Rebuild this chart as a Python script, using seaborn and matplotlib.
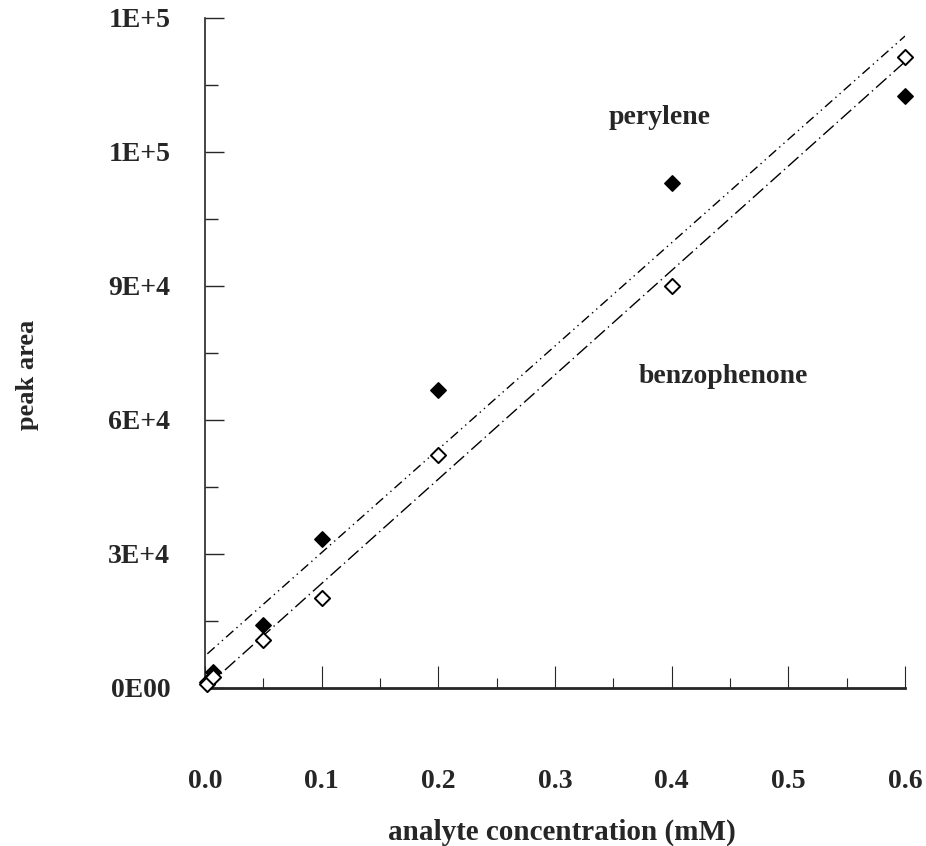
import matplotlib
matplotlib.use("Agg")
import matplotlib.pyplot as plt
from matplotlib import ticker
import seaborn as sns
import pandas as pd

# --- data ---
conc = [0.002, 0.007, 0.05, 0.1, 0.2, 0.4, 0.6]
perylene = [1300, 3600, 14100, 33300, 66600, 113100, 132600]
benzophenone = [900, 2500, 10700, 20100, 52100, 90100, 141300]

ytick_vals = [0, 30000, 60000, 90000, 120000, 150000]
ytick_labels = ["0E00", "3E+4", "6E+4", "9E+4", "1E+5", "1E+5"]
xtick_vals = [0.0, 0.1, 0.2, 0.3, 0.4, 0.5, 0.6]

df = pd.DataFrame({"conc": conc, "perylene": perylene, "benzophenone": benzophenone})

sns.set_theme(style="ticks")
plt.rcParams["font.family"] = ["Liberation Serif", "DejaVu Serif"]

fig = plt.figure(figsize=(9.26, 8.46), dpi=100)
ax = fig.add_axes([0.2214, 0.1868, 0.756, 0.792])

# perylene: filled diamonds, dash-dot-dot fit
sns.regplot(data=df, x="conc", y="perylene", ax=ax, ci=None, marker="D",
            scatter_kws=dict(s=60, color="black", edgecolors="black", linewidths=1.2,
                             alpha=1, zorder=5, clip_on=False),
            line_kws=dict(color="black", lw=1.0, ls=(0, (7, 3, 1, 3, 1, 3))))
# benzophenone: open diamonds, dash-dot fit
sns.regplot(data=df, x="conc", y="benzophenone", ax=ax, ci=None, marker="D",
            scatter_kws=dict(s=60, facecolors="white", edgecolors="black", linewidths=1.4,
                             alpha=1, zorder=5, clip_on=False),
            line_kws=dict(color="black", lw=1.0, ls=(0, (10, 3, 1, 3))))

ax.set_xlim(0, 0.6)
ax.set_ylim(0, 150000)

ax.set_xticks(xtick_vals)
ax.set_xticklabels([f"{v:.1f}" for v in xtick_vals])
ax.xaxis.set_minor_locator(ticker.MultipleLocator(0.05))
ax.set_yticks(ytick_vals)
ax.set_yticklabels(ytick_labels)
ax.yaxis.set_minor_locator(ticker.MultipleLocator(15000))

ax.tick_params(axis="x", which="major", direction="in", length=16, width=0.8,
               pad=58, labelsize=20)
ax.tick_params(axis="x", which="minor", direction="in", length=7, width=0.8)
ax.tick_params(axis="y", which="major", direction="in", length=14, width=1.0,
               pad=25, labelsize=20)
ax.tick_params(axis="y", which="minor", direction="in", length=9, width=1.0)
for lab in ax.get_xticklabels() + ax.get_yticklabels():
    lab.set_fontweight("bold")

sns.despine(ax=ax)
ax.spines["bottom"].set_linewidth(2.0)
ax.spines["left"].set_linewidth(1.2)

ax.set_xlabel("analyte concentration (mM)", fontsize=21, fontweight="bold", va="center")
ax.xaxis.set_label_coords(0.51, -0.216)
ax.set_ylabel("peak area", fontsize=19, fontweight="bold", va="center")
ax.yaxis.set_label_coords(-0.253, 0.467)

ax.text(0.39, 127600, "perylene", fontsize=20, fontweight="bold", ha="center", va="center")
ax.text(0.444, 69700, "benzophenone", fontsize=20, fontweight="bold", ha="center", va="center")

fig.savefig("out.png", dpi=100, facecolor="white")
